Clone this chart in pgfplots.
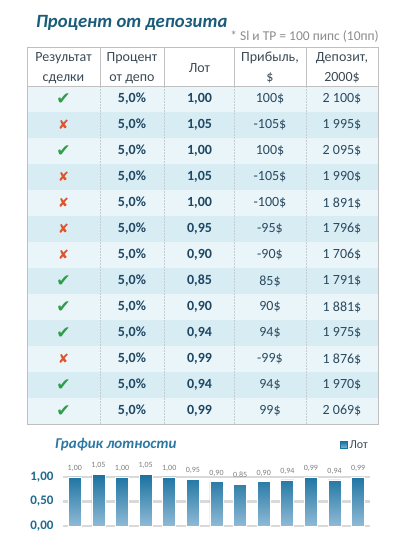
\documentclass[border=0pt]{standalone}
\usepackage{fontspec}
\setmainfont{Carlito}
\newfontfamily\symfont{DejaVu Sans}
\usepackage{pgfplots}
\pgfplotsset{compat=1.18}

\definecolor{titleblue}{HTML}{1A5C7A}
\definecolor{charttitle}{HTML}{2C78A3}
\definecolor{notegray}{HTML}{8C8C8C}
\definecolor{headtext}{HTML}{3B4A55}
\definecolor{valtext}{HTML}{2A4A60}
\definecolor{boldtext}{HTML}{1E4763}
\definecolor{rowlight}{HTML}{EAF5F9}
\definecolor{rowdark}{HTML}{D8ECF3}
\definecolor{border}{HTML}{C0C0C0}
\definecolor{dashgray}{HTML}{C3CDD2}
\definecolor{okgreen}{HTML}{2E9E48}
\definecolor{badred}{HTML}{E0522B}
\definecolor{barTop}{HTML}{1A72A0}
\definecolor{barBot}{HTML}{8FBAD6}
\definecolor{gridgray}{HTML}{D9D9D9}
\definecolor{ticktext}{HTML}{1F6A8E}
\definecolor{labelgray}{HTML}{7F7F7F}

\newcommand\okmark{{\symfont\fontsize{17}{17}\selectfont\textcolor{okgreen}{✔}}}
\newcommand\badmark{{\symfont\fontsize{13}{14}\selectfont\textcolor{badred}{✘}}}

% one table row: number, mark, lot, profit, deposit
\newcommand\trow[5]{%
  \pgfmathsetmacro\yc{464-26*#1+13}%
  \ifodd#1 \def\rc{rowlight}\else\def\rc{rowdark}\fi
  \fill[\rc] (27,\yc-13) rectangle (378,\yc+13);
  \node at (63.5,\yc) {#2};
  \node[text=boldtext, font=\fontsize{14}{16}\selectfont\bfseries] at (132,\yc) {5,0\%};
  \node[text=boldtext, font=\fontsize{14}{16}\selectfont\bfseries] at (199.5,\yc) {#3};
  \node[text=valtext, font=\fontsize{14}{16}\selectfont] at (270,\yc) {#4};
  \node[text=valtext, font=\fontsize{14}{16}\selectfont] at (342,\yc) {#5};
}

\begin{document}
\begin{tikzpicture}[x=1pt,y=1pt]
\fill[white] (0,0) rectangle (400,550);

% titles
\node[anchor=west, inner sep=0, text=titleblue,
  font=\fontsize{18.7}{22}\selectfont\bfseries\itshape] at (36,527) {Процент от депозита};
\node[anchor=east, inner sep=0, text=notegray,
  font=\fontsize{13.5}{15}\selectfont] at (379,513) {* Sl и TP = 100 пипс (10пп)};

% header
\begin{scope}[every node/.style={text=headtext, align=center,
    font=\fontsize{14}{20}\selectfont}]
  \node at (63.5,482) {Результат\\сделки};
  \node at (132,482) {Процент\\от депо};
  \node at (199.5,482) {Лот};
  \node at (270,482) {Прибыль,\\\$};
  \node at (342,482) {Депозит,\\2000\$};
\end{scope}

% rows
\trow{1}{\okmark}{1,00}{100\$}{2 100\$}
\trow{2}{\badmark}{1,05}{-105\$}{1 995\$}
\trow{3}{\okmark}{1,00}{100\$}{2 095\$}
\trow{4}{\badmark}{1,05}{-105\$}{1 990\$}
\trow{5}{\badmark}{1,00}{-100\$}{1 891\$}
\trow{6}{\badmark}{0,95}{-95\$}{1 796\$}
\trow{7}{\badmark}{0,90}{-90\$}{1 706\$}
\trow{8}{\okmark}{0,85}{85\$}{1 791\$}
\trow{9}{\okmark}{0,90}{90\$}{1 881\$}
\trow{10}{\okmark}{0,94}{94\$}{1 975\$}
\trow{11}{\badmark}{0,99}{-99\$}{1 876\$}
\trow{12}{\okmark}{0,94}{94\$}{1 970\$}
\trow{13}{\okmark}{0,99}{99\$}{2 069\$}

% grid lines of the table
\foreach \x in {100,164,234,306} {
  \draw[border, line width=0.8pt] (\x,464) -- (\x,503);
  \draw[dashgray, line width=0.5pt, dash pattern=on 1.5pt off 1.5pt] (\x,126) -- (\x,464);
}
\draw[border, line width=0.8pt] (27,464) -- (378,464);
\draw[border, line width=0.8pt] (27,126) rectangle (378,503);

% chart
\node[anchor=west, inner sep=0, text=charttitle,
  font=\fontsize{15}{18}\selectfont\bfseries\itshape] at (55,105) {График лотности};
\coordinate (chartorigin) at (63,24);

\begin{axis}[
  at={(chartorigin)}, anchor=south west,
  scale only axis, width=307pt, height=49pt,
  xmin=-0.5, xmax=12.5, ymin=0, ymax=1,
  clip=false,
  axis line style={draw=none},
  major tick length=0,
  xtick=\empty,
  ytick={0,0.5,1},
  ymajorgrids,
  grid style={line width=2.5pt, color=gridgray},
  yticklabel style={text=ticktext, font=\fontsize{13}{15}\selectfont\bfseries,
    xshift=-6pt,
    /pgf/number format/.cd, fixed, fixed zerofill, precision=2, use comma,
    assume math mode=true},
  ybar, bar width=13pt,
  legend style={at={(1,1.65)}, anchor=east, draw=none, fill=none,
    inner sep=0pt, font=\fontsize{12}{14}\selectfont, text=headtext},
  legend image code/.code={\fill[barTop] (0pt,-3.5pt) rectangle (7pt,3.5pt);},
]
\addplot[draw=white, line width=0.8pt, top color=barTop, bottom color=barBot,
  nodes near coords,
  every node near coord/.append style={font=\fontsize{8}{9}\selectfont,
    text=labelgray, yshift=2pt,
    /pgf/number format/.cd, fixed, fixed zerofill, precision=2, use comma,
    assume math mode=true}]
coordinates {(0,1.00) (1,1.05) (2,1.00) (3,1.05) (4,1.00) (5,0.95) (6,0.90)
 (7,0.85) (8,0.90) (9,0.94) (10,0.99) (11,0.94) (12,0.99)};
\addlegendentry{Лот}
\end{axis}
\end{tikzpicture}
\end{document}
